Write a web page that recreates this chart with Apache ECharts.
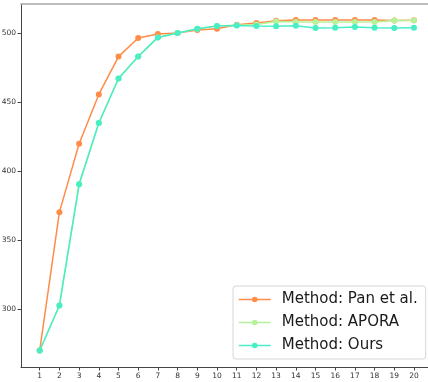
<!DOCTYPE html>
<html>
<head>
<meta charset="utf-8">
<script src="https://cdn.jsdelivr.net/npm/echarts@6/dist/echarts.min.js"></script>
<style>
  html, body { margin: 0; padding: 0; background: #fff; }
  #chart { width: 428px; height: 382px; }
</style>
</head>
<body>
<div id="chart"></div>
<script>
// Iteration steps on the x axis
const steps = [1, 2, 3, 4, 5, 6, 7, 8, 9, 10, 11, 12, 13, 14, 15, 16, 17, 18, 19, 20];
const yTicks = [300, 350, 400, 450, 500];

// Score per step for each method
const panEtAl = [270, 370.2, 419.7, 455.5, 482.9, 496.4, 499.3, 500, 502.2, 503.1,
                 506.0, 507.2, 508.9, 509.4, 509.4, 509.4, 509.4, 509.4, 509.1, 509.2];
const apora   = [270, 302.6, 390.4, 434.8, 467.0, 482.9, 496.8, 500, 503.1, 505.0,
                 505.6, 506.2, 508.4, 508.0, 508.0, 508.0, 508.0, 508.0, 509.1, 509.1];
const ours    = [270, 302.6, 390.4, 434.8, 467.0, 482.9, 496.8, 500, 503.1, 505.0,
                 505.5, 505.0, 504.9, 505.3, 503.6, 503.8, 504.3, 503.8, 503.6, 503.8];

const names = ['Method: Pan et al.', 'Method: APORA', 'Method: Ours'];
const colors = ['#ff8c48', '#b6f29a', '#48eec6'];
const values = [panEtAl, apora, ours];

const chart = echarts.init(document.getElementById('chart'), null, { renderer: 'canvas' });

const series = values.map((vals, i) => ({
  name: names[i],
  type: 'line',
  data: steps.map((s, k) => [s, vals[k]]),
  symbol: 'circle',
  symbolSize: 6,
  showSymbol: true,
  lineStyle: { width: 1.5, color: colors[i] },
  itemStyle: { color: colors[i] },
  z: 2 + i
}));

chart.setOption({
  animation: false,
  backgroundColor: '#fff',
  grid: { left: 21, top: 4, width: 411.7, height: 363, containLabel: false, outerBoundsMode: 'none' },
  legend: {
    orient: 'vertical',
    left: 233,
    top: 286,
    padding: [6, 8, 6, 5],
    itemGap: 8,
    itemWidth: 32,
    itemHeight: 7,
    backgroundColor: 'rgba(255,255,255,0.85)',
    borderColor: '#d6d6d6',
    borderWidth: 1,
    borderRadius: 3,
    lineStyle: { width: 1.5 },
    textStyle: { fontFamily: 'DejaVu Sans', fontSize: 15, color: '#1a1a1a', lineHeight: 15, padding: [0, 0, 0, 6] },
    data: names
  },
  xAxis: [{
    type: 'value',
    min: 0.05,
    max: 20.95,
    axisLine: { show: true, onZero: false, lineStyle: { color: '#444', width: 1 } },
    axisTick: { show: true, length: 3.5, customValues: steps, lineStyle: { color: '#444' } },
    axisLabel: { customValues: steps, fontFamily: 'DejaVu Sans', fontSize: 7.5, color: '#333', margin: 5 },
    splitLine: { show: false }
  }, {
    type: 'value',
    position: 'top',
    min: 0.05,
    max: 20.95,
    axisLine: { show: true, onZero: false, lineStyle: { color: '#a8a8a8', width: 1.5 } },
    axisTick: { show: false },
    axisLabel: { show: false },
    splitLine: { show: false }
  }],
  yAxis: {
    type: 'value',
    min: 258,
    max: 521,
    axisLine: { show: true, onZero: false, lineStyle: { color: '#444', width: 1 } },
    axisTick: { show: true, length: 3.5, customValues: yTicks, lineStyle: { color: '#444' } },
    axisLabel: { customValues: yTicks, fontFamily: 'DejaVu Sans', fontSize: 7.5, color: '#333', margin: 5 },
    splitLine: { show: false }
  },
  series: series
});
</script>
</body>
</html>
